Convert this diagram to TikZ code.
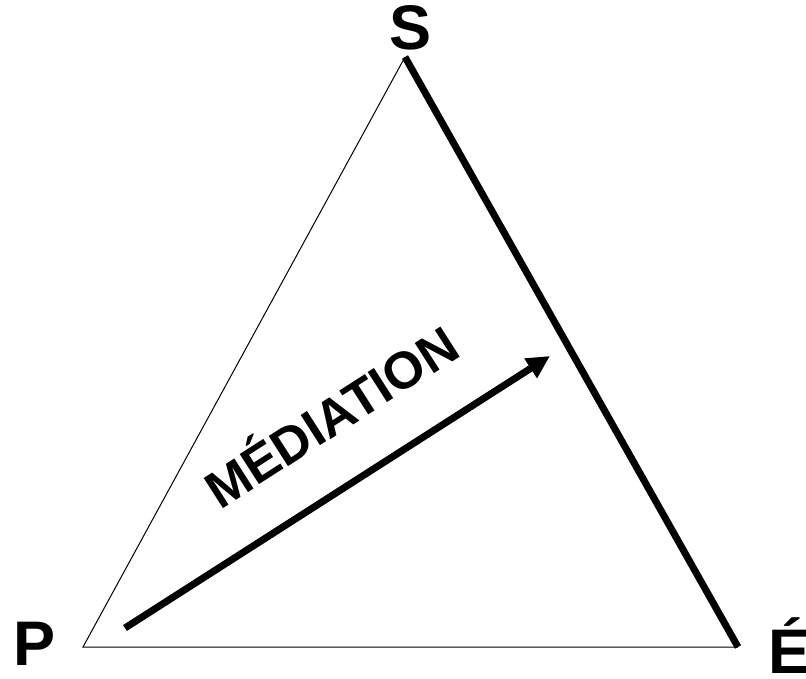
\documentclass[tikz,border=0pt]{standalone}
\usepackage{fontspec}
\setmainfont{Liberation Sans}
\usetikzlibrary{arrows.meta,positioning}

\begin{document}
\begin{tikzpicture}[x=1pt, y=-1pt,
        thinline/.style={draw=black, line width=1pt},
        thickline/.style={draw=black, line width=7pt},
        arrow/.style={-{Triangle[length=23pt, width=22pt]}, draw=black, line width=7pt},
        vertex/.style={inner sep=0pt, anchor=base west, font=\fontsize{63}{63}\selectfont\bfseries}
    ]
    \useasboundingbox (0,0) rectangle (806,679);
    \clip (0,0) rectangle (806,679);

    % Triangle corners
    \coordinate (s) at (405,57);
    \coordinate (p) at (83,647);
    \coordinate (e) at (738,647);

    % Vertex labels
    \node[vertex] (lblS) at (389,50) {S};
    \node[vertex] (lblP) at (13,665) {P};
    \node[vertex] (lblE) at (768,673) {É};

    % Sides
    \draw[thinline] (s) -- (p) -- (e);
    \draw[thickline] (s) -- (e);

    % Mediation arrow
    \coordinate (from) at (125,628);
    \coordinate (to) at (550,356);
    \draw[arrow] (from) -- node[pos=0.57, sloped, above=44pt, inner sep=0pt, font=\fontsize{52}{52}\selectfont\bfseries] (med) {MÉDIATION} (to);

\end{tikzpicture}
\end{document}
